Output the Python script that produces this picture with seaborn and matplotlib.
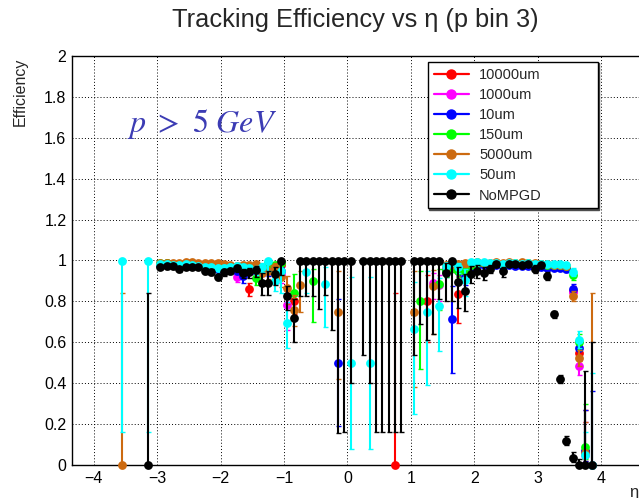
import numpy as np
import pandas as pd
import matplotlib
matplotlib.use("Agg")
import matplotlib.pyplot as plt
import seaborn as sns
from matplotlib.lines import Line2D
from matplotlib.ticker import MultipleLocator, FuncFormatter

N = np.nan

# eta bin centres (bins that have entries)
ETA = [-3.55, -3.15,
       -2.95, -2.85, -2.75, -2.65, -2.55, -2.45, -2.35, -2.25, -2.15, -2.05, -1.95, -1.85, -1.75,
       -1.65, -1.55, -1.45, -1.35, -1.25, -1.15, -1.05,
       -0.95, -0.85, -0.75, -0.65, -0.55, -0.45, -0.35, -0.25, -0.15, -0.05, 0.05, 0.25, 0.35,
       0.45, 0.55, 0.65, 0.75, 0.85,
       1.05, 1.15, 1.25, 1.35, 1.45, 1.55, 1.65, 1.75, 1.85, 1.95,
       2.05, 2.15, 2.25, 2.35, 2.45, 2.55, 2.65, 2.75, 2.85, 2.95, 3.05, 3.15, 3.25, 3.35, 3.45,
       3.55, 3.65, 3.75, 3.85]

LABELS = ["10000um", "1000um", "10um", "150um", "5000um", "50um", "NoMPGD"]

# ---- 10000um
EFF_10000 = [N, N,
    0.985, 0.99, 0.985, 0.985, 0.99, 0.985, 0.985, 0.98, 0.98, 0.975, 0.975, 0.97, 0.97,
    0.97, 0.86, 0.97, 0.96, 0.97, 0.96, 0.98,
    N, 0.80, N, N, N, N, N, N, N, N, N, N, N, N, N, N, 0.0, N,
    N, N, 0.80, N, N, 0.97, 0.98, 0.836, 0.96, 0.99,
    0.99, 0.99, 0.985, 0.99, 0.985, 0.99, 0.985, 0.99, 0.985, 0.985, 0.98, 0.98, 0.975, 0.975, 0.97,
    0.85, 0.55, 0.07, N]
LO_10000 = [N, N,
    0.01, 0.01, 0.01, 0.01, 0.01, 0.01, 0.01, 0.01, 0.012, 0.012, 0.014, 0.015, 0.016,
    0.018, 0.035, 0.02, 0.025, 0.025, 0.03, 0.03,
    N, 0.06, N, N, N, N, N, N, N, N, N, N, N, N, N, N, 0.0, N,
    N, N, 0.2, N, N, 0.03, 0.025, 0.14, 0.04, 0.015,
    0.01, 0.01, 0.01, 0.01, 0.01, 0.01, 0.01, 0.01, 0.01, 0.01, 0.01, 0.01, 0.012, 0.012, 0.012,
    0.025, 0.04, 0.05, N]
HI_10000 = [N, N,
    0.008, 0.008, 0.008, 0.008, 0.008, 0.008, 0.008, 0.01, 0.01, 0.01, 0.012, 0.012, 0.013,
    0.015, 0.03, 0.015, 0.02, 0.02, 0.02, 0.015,
    N, 0.05, N, N, N, N, N, N, N, N, N, N, N, N, N, N, 0.84, N,
    N, N, 0.13, N, N, 0.02, 0.015, 0.09, 0.03, 0.008,
    0.008, 0.008, 0.008, 0.008, 0.008, 0.008, 0.008, 0.008, 0.008, 0.008, 0.01, 0.01, 0.01, 0.01, 0.01,
    0.025, 0.04, 0.2, N]

# ---- 1000um
EFF_1000 = [N, N,
    0.985, 0.985, 0.98, 0.985, 0.985, 0.98, 0.98, 0.975, 0.97, 0.965, 0.96, 0.955, 0.92,
    0.95, 0.95, 0.96, 0.95, 0.96, 0.97, 0.93,
    0.78, N, N, N, N, N, N, N, N, N, N, N, N, N, N, N, N, N,
    N, N, N, 0.89, 0.88, 0.96, 0.97, 0.95, 0.96, 0.98,
    0.985, 0.985, 0.98, 0.985, 0.98, 0.985, 0.98, 0.985, 0.985, 0.98, 0.975, 0.975, 0.97, 0.97, 0.97,
    0.845, 0.482, 0.05, N]
LO_1000 = [N, N,
    0.01, 0.01, 0.01, 0.01, 0.01, 0.01, 0.01, 0.012, 0.012, 0.014, 0.015, 0.016, 0.025,
    0.02, 0.02, 0.02, 0.025, 0.025, 0.025, 0.04,
    0.12, N, N, N, N, N, N, N, N, N, N, N, N, N, N, N, N, N,
    N, N, N, 0.08, 0.08, 0.03, 0.025, 0.03, 0.03, 0.015,
    0.01, 0.01, 0.01, 0.01, 0.01, 0.01, 0.01, 0.01, 0.01, 0.01, 0.012, 0.012, 0.012, 0.012, 0.012,
    0.025, 0.04, 0.04, N]
HI_1000 = [N, N,
    0.008, 0.008, 0.008, 0.008, 0.008, 0.008, 0.008, 0.01, 0.01, 0.012, 0.012, 0.013, 0.02,
    0.015, 0.015, 0.015, 0.02, 0.02, 0.02, 0.03,
    0.07, N, N, N, N, N, N, N, N, N, N, N, N, N, N, N, N, N,
    N, N, N, 0.05, 0.05, 0.02, 0.015, 0.02, 0.02, 0.01,
    0.008, 0.008, 0.008, 0.008, 0.008, 0.008, 0.008, 0.008, 0.008, 0.008, 0.01, 0.01, 0.01, 0.01, 0.01,
    0.025, 0.04, 0.16, N]

# ---- 10um
EFF_10 = [N, N,
    0.98, 0.98, 0.98, 0.98, 0.985, 0.98, 0.975, 0.97, 0.965, 0.96, 0.96, 0.955, 0.95,
    0.925, 0.96, 0.95, 0.97, 0.95, 0.96, 0.95,
    N, N, N, N, N, N, N, N, 0.5, N, N, N, N, N, N, N, N, N,
    N, N, N, N, N, 0.95, 0.714, 0.96, 0.92, 0.97,
    0.98, 0.98, 0.975, 0.98, 0.975, 0.98, 0.975, 0.975, 0.975, 0.97, 0.97, 0.965, 0.965, 0.965, 0.96,
    0.86, 0.57, 0.07, 0.0]
LO_10 = [N, N,
    0.01, 0.01, 0.01, 0.01, 0.01, 0.01, 0.012, 0.012, 0.013, 0.014, 0.015, 0.016, 0.018,
    0.035, 0.02, 0.025, 0.02, 0.025, 0.025, 0.03,
    N, N, N, N, N, N, N, N, 0.31, N, N, N, N, N, N, N, N, N,
    N, N, N, N, N, 0.03, 0.264, 0.03, 0.04, 0.02,
    0.01, 0.01, 0.01, 0.01, 0.01, 0.01, 0.01, 0.01, 0.01, 0.012, 0.012, 0.012, 0.012, 0.012, 0.014,
    0.025, 0.04, 0.05, 0.0]
HI_10 = [N, N,
    0.008, 0.008, 0.008, 0.008, 0.008, 0.008, 0.01, 0.01, 0.01, 0.012, 0.012, 0.013, 0.015,
    0.025, 0.015, 0.02, 0.015, 0.02, 0.02, 0.02,
    N, N, N, N, N, N, N, N, 0.31, N, N, N, N, N, N, N, N, N,
    N, N, N, N, N, 0.02, 0.16, 0.02, 0.03, 0.015,
    0.008, 0.008, 0.008, 0.008, 0.008, 0.008, 0.008, 0.008, 0.008, 0.01, 0.01, 0.01, 0.01, 0.01, 0.012,
    0.025, 0.04, 0.2, 0.36]

# ---- 150um
EFF_150 = [N, N,
    0.99, 0.99, 0.985, 0.985, 0.99, 0.985, 0.985, 0.98, 0.98, 0.975, 0.975, 0.97, 0.97,
    0.96, 0.96, 0.915, 0.97, 0.99, 0.98, 0.99,
    N, 0.84, N, N, 0.90, N, N, N, N, N, N, N, N, N, N, N, N, N,
    N, 0.80, N, N, 0.886, 0.95, 0.97, 0.948, 0.95, 0.98,
    0.99, 0.99, 0.985, 0.99, 0.985, 0.99, 0.99, 0.99, 0.99, 0.985, 0.985, 0.98, 0.98, 0.98, 0.975,
    0.93, 0.60, 0.088, N]
LO_150 = [N, N,
    0.01, 0.01, 0.01, 0.01, 0.01, 0.01, 0.01, 0.01, 0.012, 0.012, 0.013, 0.014, 0.015,
    0.02, 0.02, 0.035, 0.02, 0.02, 0.025, 0.03,
    N, 0.08, N, N, 0.2, N, N, N, N, N, N, N, N, N, N, N, N, N,
    N, 0.33, N, N, 0.13, 0.03, 0.025, 0.03, 0.03, 0.015,
    0.01, 0.01, 0.01, 0.01, 0.01, 0.01, 0.01, 0.01, 0.01, 0.01, 0.01, 0.012, 0.012, 0.012, 0.012,
    0.025, 0.04, 0.06, N]
HI_150 = [N, N,
    0.008, 0.008, 0.008, 0.008, 0.008, 0.008, 0.008, 0.008, 0.01, 0.01, 0.01, 0.012, 0.012,
    0.015, 0.015, 0.03, 0.015, 0.01, 0.015, 0.01,
    N, 0.095, N, N, 0.06, N, N, N, N, N, N, N, N, N, N, N, N, N,
    N, 0.15, N, N, 0.07, 0.02, 0.015, 0.02, 0.02, 0.01,
    0.008, 0.008, 0.008, 0.008, 0.008, 0.008, 0.008, 0.008, 0.008, 0.008, 0.008, 0.01, 0.01, 0.01, 0.01,
    0.02, 0.04, 0.21, N]

# ---- 5000um
EFF_5000 = [0.0, N,
    0.99, 0.99, 0.99, 0.99, 0.995, 0.995, 0.99, 0.99, 0.99, 0.99, 0.985, 0.98, 0.975,
    0.98, 0.98, 0.985, 0.94, 0.95, 0.97, 0.92,
    0.866, 0.76, 0.88, N, N, N, N, N, 0.75, N, N, N, N, N, N, N, N, N,
    0.75, N, N, 0.874, N, 0.98, 0.985, 0.985, 0.99, 0.99,
    0.995, 0.99, 0.99, 0.995, 0.99, 0.995, 0.99, 0.995, 0.99, 0.99, 0.985, 0.985, 0.98, 0.98, 0.975,
    0.825, 0.523, 0.06, 0.0]
LO_5000 = [0.0, N,
    0.008, 0.008, 0.008, 0.008, 0.008, 0.008, 0.008, 0.008, 0.01, 0.01, 0.012, 0.013, 0.015,
    0.018, 0.02, 0.02, 0.04, 0.04, 0.03, 0.05,
    0.08, 0.08, 0.13, N, N, N, N, N, 0.33, N, N, N, N, N, N, N, N, N,
    0.37, N, N, 0.234, N, 0.025, 0.02, 0.02, 0.02, 0.012,
    0.008, 0.008, 0.008, 0.008, 0.008, 0.008, 0.008, 0.008, 0.008, 0.008, 0.01, 0.01, 0.01, 0.01, 0.012,
    0.025, 0.04, 0.05, 0.0]
HI_5000 = [0.84, N,
    0.006, 0.006, 0.006, 0.006, 0.004, 0.004, 0.006, 0.006, 0.008, 0.008, 0.01, 0.01, 0.012,
    0.012, 0.015, 0.012, 0.03, 0.03, 0.02, 0.04,
    0.06, 0.07, 0.07, N, N, N, N, N, 0.2, N, N, N, N, N, N, N, N, N,
    0.2, N, N, 0.08, N, 0.015, 0.012, 0.012, 0.01, 0.008,
    0.004, 0.006, 0.006, 0.004, 0.006, 0.004, 0.006, 0.004, 0.006, 0.006, 0.008, 0.008, 0.01, 0.01, 0.01,
    0.025, 0.04, 0.15, 0.84]

# ---- 50um
EFF_50 = [1.0, 1.0,
    0.985, 0.985, 0.98, 0.98, 0.985, 0.98, 0.975, 0.97, 0.97, 0.965, 0.965, 0.97, 0.975,
    0.97, 0.965, 0.955, 0.97, 1.0, 0.90, 0.948,
    0.695, N, N, 0.943, N, N, 0.887, N, N, N, 0.5, N, 0.5, N, N, N, N, N,
    0.665, N, 0.75, N, 0.776, 0.975, 0.995, 0.97, 0.907, 0.995,
    0.995, 0.995, 0.99, 0.99, 0.985, 0.99, 0.99, 0.985, 0.99, 0.985, 0.985, 0.985, 0.985, 0.985, 0.98,
    0.944, 0.613, 0.05, 0.0]
LO_50 = [0.84, 0.84,
    0.01, 0.01, 0.01, 0.01, 0.01, 0.01, 0.01, 0.012, 0.012, 0.013, 0.014, 0.015, 0.016,
    0.02, 0.02, 0.025, 0.025, 0.05, 0.05, 0.108,
    0.125, N, N, 0.10, N, N, 0.21, N, N, N, 0.42, N, 0.42, N, N, N, N, N,
    0.415, N, 0.36, N, 0.22, 0.03, 0.01, 0.03, 0.08, 0.008,
    0.008, 0.008, 0.01, 0.01, 0.01, 0.01, 0.01, 0.01, 0.01, 0.01, 0.01, 0.01, 0.01, 0.01, 0.012,
    0.02, 0.04, 0.04, 0.0]
HI_50 = [0.0, 0.0,
    0.008, 0.008, 0.008, 0.008, 0.008, 0.008, 0.008, 0.01, 0.01, 0.01, 0.012, 0.012, 0.012,
    0.015, 0.015, 0.02, 0.02, 0.0, 0.04, 0.04,
    0.1, N, N, 0.05, N, N, 0.08, N, N, N, 0.42, N, 0.42, N, N, N, N, N,
    0.23, N, 0.2, N, 0.14, 0.015, 0.005, 0.02, 0.05, 0.005,
    0.005, 0.005, 0.008, 0.008, 0.008, 0.008, 0.008, 0.008, 0.008, 0.008, 0.008, 0.008, 0.008, 0.008, 0.01,
    0.02, 0.04, 0.11, 0.45]

# ---- NoMPGD
EFF_NOMPGD = [N, 0.0,
    0.97, 0.972, 0.972, 0.956, 0.97, 0.968, 0.97, 0.95, 0.945, 0.92, 0.943, 0.95, 0.962,
    0.94, 0.943, 0.955, 0.89, 0.89, 0.935, 1.0,
    0.825, 0.72, 1.0, 1.0, 1.0, 1.0, 1.0, 1.0, 1.0, 1.0, 1.0, 1.0, 1.0, 1.0, 1.0, 1.0, 1.0, 1.0,
    1.0, 1.0, 1.0, 1.0, 1.0, 0.94, 1.0, 0.896, 0.853, 0.934,
    0.95, 0.94, 0.96, 0.985, 0.95, 0.985, 0.985, 0.977, 0.985, 0.96, 0.977, 0.923, 0.737, 0.42, 0.116,
    0.035, 0.0, 0.0, 0.0]
LO_NOMPGD = [N, 0.0,
    0.012, 0.012, 0.012, 0.012, 0.012, 0.012, 0.012, 0.014, 0.015, 0.017, 0.017, 0.018, 0.02,
    0.025, 0.03, 0.035, 0.06, 0.06, 0.055, 0.07,
    0.065, 0.12, 0.175, 0.175, 0.175, 0.237, 0.17, 0.34, 0.845, 0.84, 0.6, 0.46, 0.6, 0.84, 0.84, 0.84, 0.84, 0.84,
    0.46, 0.31, 0.39, 0.36, 0.19, 0.14, 0.2, 0.13, 0.1, 0.045,
    0.035, 0.035, 0.02, 0.015, 0.03, 0.012, 0.012, 0.015, 0.012, 0.02, 0.015, 0.02, 0.018, 0.02, 0.02,
    0.02, 0.0, 0.0, 0.0]
HI_NOMPGD = [N, 0.84,
    0.01, 0.01, 0.01, 0.01, 0.01, 0.01, 0.01, 0.012, 0.012, 0.015, 0.015, 0.015, 0.015,
    0.02, 0.02, 0.02, 0.05, 0.06, 0.035, 0.0,
    0.05, 0.09, 0.0, 0.0, 0.0, 0.0, 0.0, 0.0, 0.0, 0.0, 0.0, 0.0, 0.0, 0.0, 0.0, 0.0, 0.0, 0.0,
    0.0, 0.0, 0.0, 0.0, 0.0, 0.05, 0.0, 0.07, 0.08, 0.04,
    0.03, 0.03, 0.02, 0.01, 0.02, 0.01, 0.01, 0.01, 0.01, 0.02, 0.01, 0.02, 0.018, 0.02, 0.025,
    0.03, 0.03, 0.46, 0.6]

COLORS = ["#ff0000", "#ff00ff", "#0000ff", "#00ff00", "#cc6a10", "#00ffff", "#000000"]
SERIES = [
    (LABELS[0], EFF_10000, LO_10000, HI_10000),
    (LABELS[1], EFF_1000, LO_1000, HI_1000),
    (LABELS[2], EFF_10, LO_10, HI_10),
    (LABELS[3], EFF_150, LO_150, HI_150),
    (LABELS[4], EFF_5000, LO_5000, HI_5000),
    (LABELS[5], EFF_50, LO_50, HI_50),
    (LABELS[6], EFF_NOMPGD, LO_NOMPGD, HI_NOMPGD),
]

rows = []
for name, eff, lo, hi in SERIES:
    for e, v, l, h in zip(ETA, eff, lo, hi):
        if not np.isnan(v):
            rows.append((name, e, v, l, h))
df = pd.DataFrame(rows, columns=["series", "eta", "eff", "lo", "hi"])

sns.set_style("white")
plt.rcParams["font.family"] = ["Liberation Sans", "DejaVu Sans"]

W, H = 639, 498
fig = plt.figure(figsize=(W / 100, H / 100), dpi=100)
ax = fig.add_axes([72 / W, 1 - 465 / H, 1 - 72 / W, (465 - 56) / H])

for (name, _, _, _), col in zip(SERIES, COLORS):
    d = df[df.series == name]
    ax.errorbar(d.eta, d.eff, yerr=[d.lo, d.hi], fmt="none", ecolor=col,
                elinewidth=1.5, capsize=1.8, capthick=1.0, clip_on=False, zorder=3)
    sns.scatterplot(data=d, x="eta", y="eff", color=col, s=40, linewidth=0,
                    ax=ax, clip_on=False, zorder=3, legend=False)

ax.set_xlim(-4.345, 4.598)
ax.set_ylim(0, 2)
ax.set_xlabel("")
ax.set_ylabel("")
ax.xaxis.set_major_locator(MultipleLocator(1))
ax.xaxis.set_minor_locator(MultipleLocator(0.2))
ax.yaxis.set_major_locator(MultipleLocator(0.2))
ax.yaxis.set_minor_locator(MultipleLocator(0.04))
ax.yaxis.set_major_formatter(FuncFormatter(lambda v, p: "%g" % round(v, 2)))
ax.tick_params(which="both", direction="in", top=False, right=False, width=0.8, colors="black")
ax.tick_params(axis="x", which="major", length=8.5, labelsize=11.5, pad=4)
ax.tick_params(axis="x", which="minor", length=4.3)
ax.tick_params(axis="y", which="major", length=12, labelsize=11.5, pad=4)
ax.tick_params(axis="y", which="minor", length=6)
ax.grid(True, which="major", linestyle=(0, (1, 2.2)), color="black", linewidth=0.7)
ax.set_axisbelow(True)
for s in ["left", "bottom", "top"]:
    ax.spines[s].set_visible(True)
    ax.spines[s].set_color("black")
    ax.spines[s].set_linewidth(1.0)
ax.spines["right"].set_visible(False)

fig.text(355 / W, 1 - 20 / H, "Tracking Efficiency vs η (p bin 3)", ha="center", va="center",
         fontsize=18.3)
fig.text(20 / W, 1 - 58 / H, "Efficiency", rotation=90, ha="center", va="top", fontsize=11.5)
fig.text(634 / W, 1 - 492 / H, "η", ha="center", va="center", fontsize=12)
fig.text(127 / W, 1 - 124 / H, r"$p\ >\ 5\ GeV$", ha="left", va="center", fontsize=23,
         color="#3c3cb4", math_fontfamily="stix")

handles = [Line2D([0], [0], color=c, marker="o", markersize=6.5, lw=1.6) for c in COLORS]
leg = fig.legend(handles, LABELS, loc="upper left",
                 bbox_to_anchor=(428 / W, 1 - 62 / H, (598 - 428) / W, 0.0),
                 mode="expand", fontsize=10.5, frameon=True, fancybox=False,
                 edgecolor="black", labelspacing=0.42, handlelength=2.4, handletextpad=0.7,
                 borderpad=0.4, borderaxespad=0.0,
                 shadow={"ox": 0.8, "oy": -0.8, "color": "0.3", "alpha": 1.0})
leg.get_frame().set_linewidth(1.0)

fig.savefig("out.png", dpi=100)
